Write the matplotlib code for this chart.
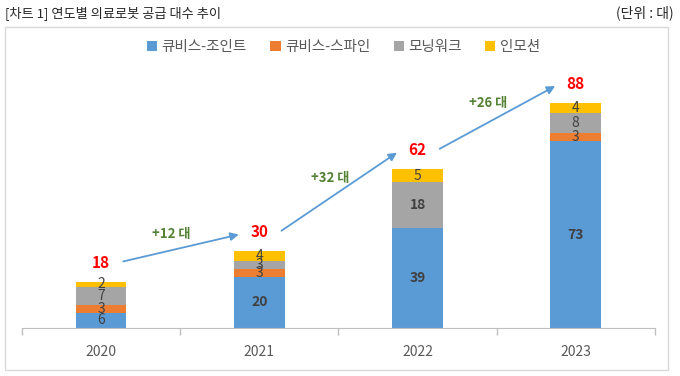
import matplotlib.pyplot as plt
import numpy as np
from matplotlib.patches import Rectangle

plt.rcParams['font.family'] = ['Noto Sans CJK KR', 'DejaVu Sans']

# 데이터
years = ['2020', '2021', '2022', '2023']
series_names = ['큐비스-조인트', '큐비스-스파인', '모닝워크', '인모션']
joint = [6, 20, 39, 73]
spine = [3, 3, 0, 3]
morning = [7, 3, 18, 8]
inmotion = [2, 4, 5, 4]
colors = ['#5B9BD5', '#ED7D31', '#A5A5A5', '#FFC000']

series = [joint, spine, morning, inmotion]
totals = np.sum(series, axis=0)
x = np.arange(len(years))

fig = plt.figure(figsize=(6.8, 3.76), dpi=100)
ax = fig.add_axes([0.0324, 0.1277, 0.9306, 0.6808])

# 누적 막대
bottom = np.zeros(len(years))
for name, vals, c in zip(series_names, series, colors):
    bars = ax.bar(x, vals, 0.32, bottom=bottom, color=c, label=name, zorder=2)
    for b, v, y0 in zip(bars, vals, bottom):
        if v > 0:
            ax.text(b.get_x() + b.get_width() / 2, y0 + v / 2, str(v),
                    ha='center', va='center', fontsize=10, color='#404040',
                    fontweight='bold' if v >= 10 else 'medium')
    bottom += vals

# 합계 라벨
for i, t in enumerate(totals):
    ax.text(i, t + 7.5, str(t), ha='center', va='center', fontsize=11,
            color='#FF0000', fontweight='bold')

# 증가 화살표
for i in range(len(years) - 1):
    x0, y0 = i + 0.14, totals[i] + 8
    x1, y1 = i + 0.87, totals[i + 1] + 6.5
    ax.annotate('', xy=(x1, y1), xytext=(x0, y0),
                arrowprops=dict(arrowstyle='-|>', color='#5B9BD5', lw=1.3,
                                mutation_scale=12, shrinkA=0, shrinkB=0))
    ax.text((x0 + x1) / 2 - 0.06, (y0 + y1) / 2 + 5.5,
            f'+{totals[i + 1] - totals[i]} 대', ha='center', va='center',
            fontsize=9.5, color='#548235', fontweight='bold')

ax.set_xlim(-0.5, 3.5)
ax.set_ylim(0, 100)
ax.set_yticks([])
ax.set_xticks(x)
ax.set_xticklabels(years, fontsize=10, color='#595959')
ax.tick_params(axis='x', which='major', length=0, pad=12)
ax.set_xticks(np.arange(-0.5, 4, 1), minor=True)
ax.tick_params(axis='x', which='minor', length=5, color='#BFBFBF', width=1)
for s in ['top', 'right', 'left']:
    ax.spines[s].set_visible(False)
ax.spines['bottom'].set_color('#BFBFBF')

leg = fig.legend(loc='center', bbox_to_anchor=(0.505, 0.875), ncol=4,
                 frameon=False, fontsize=10.5, handlelength=0.7,
                 handleheight=0.7, handletextpad=0.3, columnspacing=1.6)
for t in leg.get_texts():
    t.set_color('#595959')

# 바깥 테두리
fig.add_artist(Rectangle((0.0074, 0.016), 0.975, 0.912, transform=fig.transFigure,
                         fill=False, edgecolor='#D9D9D9', lw=1))

fig.text(0.007, 0.965, '[차트 1] 연도별 의료로봇 공급 대수 추이', fontsize=9.5,
         color='#262626', va='center', ha='left')
fig.text(0.99, 0.965, '(단위 : 대)', fontsize=10, color='#262626',
         va='center', ha='right')

fig.savefig('out.png', dpi=100)
